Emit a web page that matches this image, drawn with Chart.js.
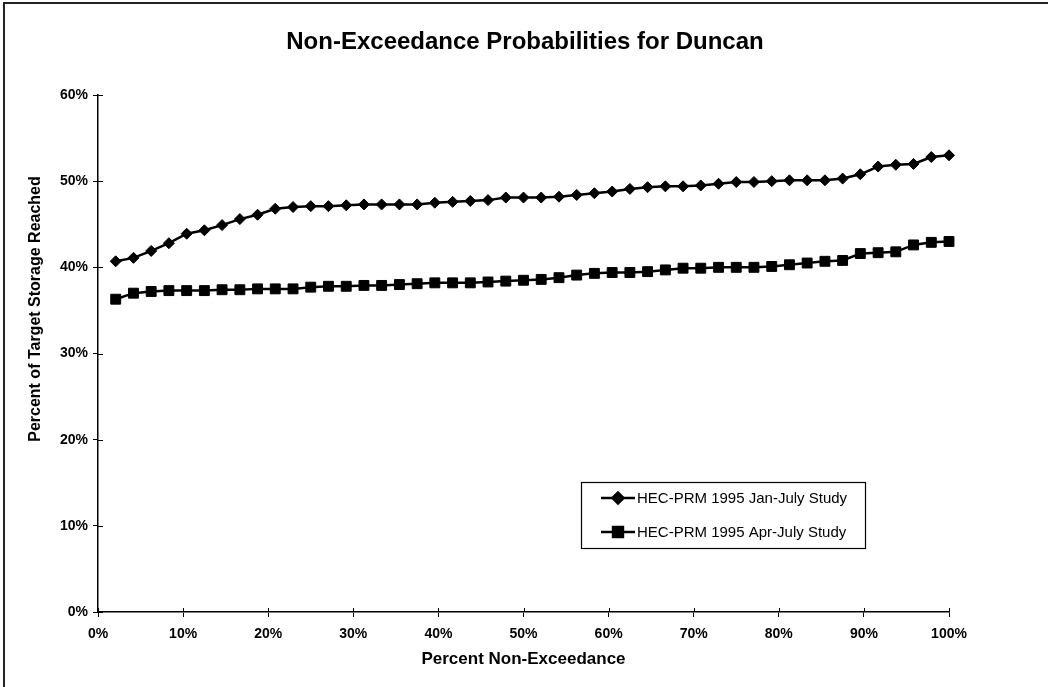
<!DOCTYPE html>
<html>
<head>
<meta charset="utf-8">
<script src="https://cdn.jsdelivr.net/npm/chart.js@4"></script>
<style>
  body { margin: 0; background: #fff; }
  #wrap { width: 1048px; height: 687px; position: relative; }
</style>
</head>
<body>
<div id="wrap"><canvas id="chart" width="1048" height="687"></canvas></div>
<script>
    // plotting positions (rank / 48 years), percent
    var nonExceedance = [2.08, 4.17, 6.25, 8.33, 10.42, 12.5, 14.58, 16.67, 18.75, 20.83, 22.92, 25,
        27.08, 29.17, 31.25, 33.33, 35.42, 37.5, 39.58, 41.67, 43.75, 45.83, 47.92, 50,
        52.08, 54.17, 56.25, 58.33, 60.42, 62.5, 64.58, 66.67, 68.75, 70.83, 72.92, 75,
        77.08, 79.17, 81.25, 83.33, 85.42, 87.5, 89.58, 91.67, 93.75, 95.83, 97.92, 100];

    var janJulyStudy = [40.7, 41.1, 41.9, 42.8, 43.9, 44.3, 44.9, 45.6, 46.1, 46.8, 47.0, 47.1,
        47.1, 47.2, 47.3, 47.3, 47.3, 47.3, 47.5, 47.6, 47.7, 47.8, 48.1, 48.1,
        48.1, 48.2, 48.4, 48.6, 48.8, 49.1, 49.3, 49.4, 49.4, 49.5, 49.7, 49.9,
        49.9, 50.0, 50.1, 50.1, 50.1, 50.3, 50.8, 51.7, 51.9, 52.0, 52.8, 53.0];

    var aprJulyStudy = [36.3, 37.0, 37.2, 37.3, 37.3, 37.3, 37.4, 37.4, 37.5, 37.5, 37.5, 37.7,
        37.8, 37.8, 37.9, 37.9, 38.0, 38.1, 38.2, 38.2, 38.2, 38.3, 38.4, 38.5,
        38.6, 38.8, 39.1, 39.3, 39.4, 39.4, 39.5, 39.7, 39.9, 39.9, 40.0, 40.0,
        40.0, 40.1, 40.3, 40.5, 40.7, 40.8, 41.6, 41.7, 41.8, 42.6, 42.9, 43.0];

    var seriesLabels = ['HEC-PRM 1995 Jan-July Study', 'HEC-PRM 1995 Apr-July Study'];
    var chartTitle = 'Non-Exceedance Probabilities for Duncan';
    var xAxisTitle = 'Percent Non-Exceedance';
    var yAxisTitle = 'Percent of Target Storage Reached';

    var SANS = '"Liberation Sans", Arial, sans-serif';

    function toPoints(values) {
        var points = [];
        for (var i = 0; i < values.length; i++) {
            points.push({x: nonExceedance[i], y: values[i]});
        }
        return points;
    }

    function pct(value) {
        return value + '%';
    }

    // frame, title, y title, inner tick marks and the boxed legend
    var decorations = {
        id: 'decorations',
        beforeDraw: function(chart) {
            var ctx = chart.ctx;
            ctx.save();
            ctx.fillStyle = '#fff';
            ctx.fillRect(0, 0, chart.width, chart.height);
            ctx.strokeStyle = '#222';
            ctx.lineWidth = 2;
            ctx.beginPath();
            ctx.moveTo(4, chart.height);
            ctx.lineTo(4, 3);
            ctx.lineTo(chart.width, 3);
            ctx.stroke();
            ctx.restore();
        },
        afterDraw: function(chart) {
            var ctx = chart.ctx;
            var area = chart.chartArea;
            var xs = chart.scales.x;
            var ys = chart.scales.y;

            ctx.save();
            ctx.fillStyle = '#000';
            ctx.textAlign = 'center';
            ctx.textBaseline = 'middle';
            ctx.font = 'bold 24px ' + SANS;
            ctx.fillText(chartTitle, 525, 42);

            ctx.save();
            ctx.translate(36, 309);
            ctx.rotate(-Math.PI / 2);
            ctx.font = 'bold 16px ' + SANS;
            ctx.fillText(yAxisTitle, 0, 0);
            ctx.restore();

            // tick marks cross the axes
            ctx.strokeStyle = '#000';
            ctx.lineWidth = 1;
            ctx.beginPath();
            xs.ticks.forEach(function(t) {
                var px = Math.round(xs.getPixelForValue(t.value)) + 0.5;
                ctx.moveTo(px, area.bottom);
                ctx.lineTo(px, area.bottom - 4);
            });
            ys.ticks.forEach(function(t) {
                var py = Math.round(ys.getPixelForValue(t.value)) + 0.5;
                ctx.moveTo(area.left, py);
                ctx.lineTo(area.left + 5, py);
            });
            ctx.stroke();

            // legend
            var boxX = 581.5, boxY = 482.5, boxW = 284, boxH = 66;
            ctx.lineWidth = 1.2;
            ctx.strokeRect(boxX, boxY, boxW, boxH);
            ctx.textAlign = 'left';
            ctx.font = '15px ' + SANS;
            chart.data.datasets.forEach(function(ds, i) {
                var rowY = 498 + i * 34;
                ctx.lineWidth = 2.5;
                ctx.beginPath();
                ctx.moveTo(601, rowY);
                ctx.lineTo(635, rowY);
                ctx.stroke();
                Chart.helpers.drawPoint(ctx, {
                    pointStyle: ds.pointStyle,
                    radius: ds.pointRadius,
                    borderWidth: 1
                }, 618, rowY);
                ctx.fill();
                ctx.fillText(ds.label, 637, rowY + 1);
            });
            ctx.restore();
        }
    };

    var datasets = [
        {
            label: seriesLabels[0],
            data: toPoints(janJulyStudy),
            borderColor: '#000',
            backgroundColor: '#000',
            borderWidth: 2.5,
            pointStyle: 'rectRot',
            pointRadius: 5.5,
            pointBorderWidth: 1,
            pointBackgroundColor: '#000',
            pointBorderColor: '#000',
            tension: 0,
            clip: false
        },
        {
            label: seriesLabels[1],
            data: toPoints(aprJulyStudy),
            borderColor: '#000',
            backgroundColor: '#000',
            borderWidth: 2.5,
            pointStyle: 'rect',
            pointRadius: 7,
            pointBorderWidth: 1,
            pointBackgroundColor: '#000',
            pointBorderColor: '#000',
            tension: 0,
            clip: false
        }
    ];

    var chart = new Chart(document.getElementById('chart'), {
        type: 'line',
        data: {datasets: datasets},
        options: {
            responsive: false,
            animation: false,
            layout: {padding: {top: 95, right: 99, left: 0, bottom: 0}},
            plugins: {
                legend: {display: false},
                title: {display: false},
                tooltip: {enabled: false}
            },
            scales: {
                x: {
                    type: 'linear',
                    min: 0,
                    max: 100,
                    afterFit: function(scale) { scale.height = 75; },
                    ticks: {
                        stepSize: 10,
                        callback: pct,
                        color: '#000',
                        padding: 9,
                        maxRotation: 0,
                        font: {family: SANS, size: 14, weight: 'bold'}
                    },
                    grid: {drawOnChartArea: false, tickLength: 5, color: '#000'},
                    border: {color: '#000', width: 1.5},
                    title: {
                        display: true,
                        text: xAxisTitle,
                        color: '#000',
                        padding: {top: 0, bottom: 17},
                        font: {family: SANS, size: 17, weight: 'bold'}
                    }
                },
                y: {
                    min: 0,
                    max: 60,
                    afterFit: function(scale) { scale.width = 98; },
                    ticks: {
                        stepSize: 10,
                        callback: pct,
                        color: '#000',
                        padding: 5,
                        font: {family: SANS, size: 14, weight: 'bold'}
                    },
                    grid: {drawOnChartArea: false, tickLength: 5, color: '#000'},
                    border: {color: '#000', width: 1.5}
                }
            }
        },
        plugins: [decorations]
    });
</script>
</body>
</html>
